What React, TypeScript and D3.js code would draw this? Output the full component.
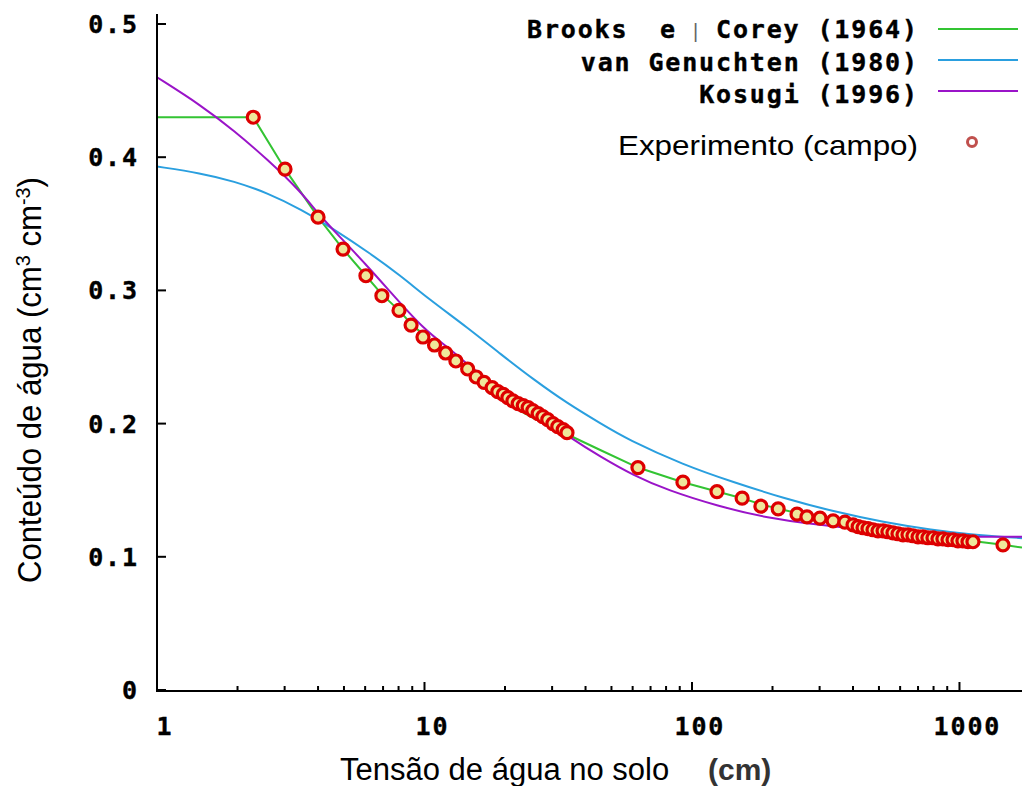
import React from "react";
import * as d3 from "d3";

// ---- data ----
const xTicksMajor = [1, 10, 100, 1000];
const yTicks = [0, 0.1, 0.2, 0.3, 0.4, 0.5];
const yTickLabels = ["0", "0.1", "0.2", "0.3", "0.4", "0.5"];
const xTickLabels = ["1", "10", "100", "1000"];

// Experimental (field) data: tension h (cm), water content theta
const expH = [
  2.29, 3.01, 4.0, 4.96, 6.04, 6.93, 8.03, 8.91, 9.87, 10.9, 12.0, 13.1, 14.5,
  15.6, 16.7, 17.9, 18.8, 19.7, 20.5, 21.4, 22.4, 23.4, 24.4, 25.4, 26.6, 27.7,
  28.9, 30.2, 31.5, 33.0, 34.1,
  62.8, 92.5, 124, 154, 181, 210, 247, 269, 301, 337, 373, 400,
  418, 436, 455, 475, 496, 518, 540, 564, 589, 615, 642, 670, 700, 730, 762,
  796, 831, 867, 906, 946, 987, 1030, 1076, 1123, 1454,
];
const expTheta = [
  0.43, 0.391, 0.355, 0.331, 0.311, 0.296, 0.285, 0.274, 0.265, 0.259, 0.253,
  0.247, 0.241, 0.235, 0.231, 0.227, 0.224, 0.222, 0.2195, 0.217, 0.215,
  0.2135, 0.212, 0.2098, 0.2075, 0.2053, 0.203, 0.2, 0.1977, 0.1955, 0.1932,
  0.167, 0.156, 0.149, 0.144, 0.138, 0.136, 0.132, 0.13, 0.129, 0.127, 0.126,
  0.124,
  0.1226, 0.1218, 0.1211, 0.1203, 0.1195, 0.1195, 0.1188, 0.118, 0.1173,
  0.1165, 0.1165, 0.1158, 0.115, 0.115, 0.1143, 0.1143, 0.1135, 0.1135,
  0.1128, 0.1128, 0.112, 0.112, 0.1113, 0.1113, 0.109,
];

// Brooks & Corey (1964)
const bcH = [1, 2.29, 3.01, 4.0, 4.96, 6.04, 6.93, 8.03, 8.91, 9.87, 12.0, 15.1, 20.0, 25.0, 30.0, 34.1, 45.6, 62.8, 92.5, 124, 154, 184, 244, 302, 408, 600, 800, 1100, 1454, 1713];
const bcTheta = [0.43, 0.43, 0.391, 0.355, 0.331, 0.311, 0.297, 0.285, 0.275, 0.267, 0.253, 0.236, 0.216, 0.205, 0.197, 0.192, 0.18, 0.167, 0.156, 0.149, 0.144, 0.139, 0.133, 0.129, 0.125, 0.119, 0.116, 0.112, 0.109, 0.107];

// van Genuchten (1980)
const vgH = [1, 1.46, 1.94, 2.6, 3.45, 4.58, 6.14, 8.15, 10.3, 14.5, 19.3, 25.6, 34.3, 45.6, 57.5, 93, 143, 220, 338, 520, 799, 1071, 1713];
const vgTheta = [0.393, 0.388, 0.382, 0.373, 0.361, 0.346, 0.329, 0.311, 0.294, 0.272, 0.252, 0.233, 0.215, 0.2, 0.188, 0.169, 0.156, 0.144, 0.134, 0.126, 0.12, 0.117, 0.114];

// Kosugi (1996)
const kH = [1, 1.46, 1.94, 2.6, 3.45, 3.99, 4.58, 6.14, 7.29, 10.0, 12.5, 14.5, 19.3, 25.6, 35.2, 45.6, 60.5, 81, 125, 192, 295, 453, 697, 1071, 1713];
const kTheta = [0.46, 0.439, 0.42, 0.398, 0.374, 0.358, 0.345, 0.318, 0.301, 0.27, 0.256, 0.244, 0.225, 0.209, 0.189, 0.175, 0.161, 0.15, 0.138, 0.129, 0.124, 0.12, 0.117, 0.115, 0.115];

const legendLabels = ["van Genuchten (1980)", "Kosugi (1996)"];

const GREEN = "#33c433";
const BLUE = "#2a9fdf";
const PURPLE = "#9a14c8";

export default function App() {
  const W = 1022;
  const H = 786;
  const x = d3.scaleLog().domain([1, 1713]).range([157, 1022]);
  const y = d3.scaleLinear().domain([0, 0.5]).range([690, 24]);

  const mk = (hs: number[], ts: number[]) => hs.map((h, i) => [h, ts[i]] as [number, number]);
  const lineLin = d3.line<[number, number]>().x((d) => x(d[0])).y((d) => y(d[1]));
  const lineSmooth = d3
    .line<[number, number]>()
    .x((d) => x(d[0]))
    .y((d) => y(d[1]))
    .curve(d3.curveBasis);

  const minorTicks: number[] = [];
  [1, 10, 100].forEach((dec) => {
    for (let k = 2; k <= 9; k++) minorTicks.push(dec * k);
  });

  const mono = "'DejaVu Sans Mono', monospace";
  const sans = "'Liberation Sans', Arial, sans-serif";
  const fs = 25;
  const ls = 1.85;

  const expPts = mk(expH, expTheta);

  return (
    <svg
      width={W}
      height={H}
      style={{ position: "absolute", left: 0, top: 0, background: "#fff" }}
    >
      <rect x={0} y={0} width={W} height={H} fill="#fff" />
      {/* curves */}
      <path d={lineLin(mk(bcH, bcTheta)) || ""} fill="none" stroke={GREEN} strokeWidth={2} />
      <path d={lineSmooth(mk(vgH, vgTheta)) || ""} fill="none" stroke={BLUE} strokeWidth={2} />
      <path d={lineSmooth(mk(kH, kTheta)) || ""} fill="none" stroke={PURPLE} strokeWidth={2} />
      {/* experimental points */}
      {expPts.map((d, i) => (
        <circle
          key={i}
          cx={x(d[0])}
          cy={y(d[1])}
          r={6}
          fill="#efe79a"
          stroke="#dd0000"
          strokeWidth={3.2}
        />
      ))}

      {/* axes */}
      <line x1={157} x2={157} y1={14} y2={691} stroke="#000" strokeWidth={2} />
      <line x1={156} x2={1022} y1={691} y2={691} stroke="#000" strokeWidth={2} />
      <g fontFamily={mono} fontWeight="bold" fontSize={fs} letterSpacing={ls} fill="#000" stroke="#000" strokeWidth={0.4}>
        {yTicks.map((t, i) => (
          <text key={"yl" + i} x={137 + ls} y={y(t) + 9} textAnchor="end">
            {yTickLabels[i]}
          </text>
        ))}
        {xTicksMajor.map((t, i) => (
          <text key={"xl" + i} x={x(t) + 7 + ls / 2} y={735} textAnchor="middle">
            {xTickLabels[i]}
          </text>
        ))}
      </g>
      {yTicks.map((t, i) => (
        <line key={"yt" + i} x1={157} x2={166} y1={y(t)} y2={y(t)} stroke="#000" strokeWidth={2} />
      ))}
      {xTicksMajor.map((t, i) => (
        <line key={"xt" + i} x1={x(t)} x2={x(t)} y1={691} y2={682} stroke="#000" strokeWidth={2} />
      ))}
      {minorTicks.map((t, i) => (
        <line key={"mt" + i} x1={x(t)} x2={x(t)} y1={691} y2={686} stroke="#000" strokeWidth={2} />
      ))}

      {/* axis titles */}
      <text x={340} y={780} fontFamily={sans} fontSize={31} fill="#000">
        Tensão de água no solo
      </text>
      <text x={708} y={780} fontFamily={sans} fontSize={30} fontWeight="bold" fill="#333">
        (cm)
      </text>
      <text
        transform="translate(41,380) rotate(-90)"
        textAnchor="middle"
        fontFamily={sans}
        fontSize={33}
        fill="#000"
        textLength={406}
        lengthAdjust="spacingAndGlyphs"
      >
        Conteúdo de água (cm<tspan dy={-11} fontSize={21}>3</tspan>
        <tspan dy={11}> cm</tspan>
        <tspan dy={-11} fontSize={21}>-3</tspan>
        <tspan dy={11}>)</tspan>
      </text>

      {/* legend */}
      <g fontFamily={mono} fontWeight="bold" fontSize={fs} fill="#000" stroke="#000" strokeWidth={0.4}>
        <text x={527} y={38} letterSpacing={ls}>Brooks</text>
        <text x={660} y={38} letterSpacing={ls}>e</text>
        <text x={917 + ls} y={38} textAnchor="end" letterSpacing={ls}>Corey (1964)</text>
        <text x={917 + ls} y={71} textAnchor="end" letterSpacing={ls}>{legendLabels[0]}</text>
        <text x={917 + ls} y={103} textAnchor="end" letterSpacing={ls}>{legendLabels[1]}</text>
      </g>
      <text x={693} y={38} fontFamily={sans} fontSize={20} fill="#666">|</text>
      <line x1={938} x2={1018} y1={29} y2={29} stroke={GREEN} strokeWidth={2} />
      <line x1={938} x2={1018} y1={60} y2={60} stroke={BLUE} strokeWidth={2} />
      <line x1={938} x2={1018} y1={91} y2={91} stroke={PURPLE} strokeWidth={2} />
      <text x={618} y={155} fontFamily={sans} fontSize={28} fill="#000" textLength={300} lengthAdjust="spacingAndGlyphs">
        Experimento (campo)
      </text>
      <circle cx={972} cy={142} r={4.5} fill="#fff" stroke="#c0504d" strokeWidth={3} />
    </svg>
  );
}
